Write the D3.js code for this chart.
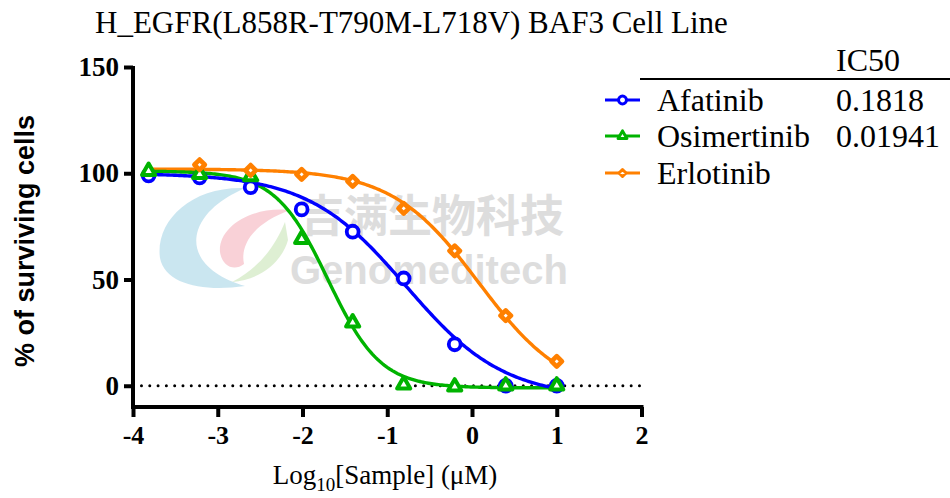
<!DOCTYPE html>
<html>
<head>
<meta charset="utf-8">
<script src="https://cdn.jsdelivr.net/npm/d3@7"></script>
<style>
  body { margin: 0; background: #fff; }
  svg { display: block; }
</style>
</head>
<body>
<svg id="chart" width="950" height="498"></svg>
<script>
// log10 concentrations (uM), 4-fold dilution
const logDose = [-3.816, -3.214, -2.612, -2.010, -1.408, -0.806, -0.204, 0.398, 1.000]
const afatinib = [99, 98, 93.4, 83, 72.5, 50.5, 19.5, 0, 0]
const osimertinib = [101, 99.5, 98.5, 69, 29.7, 0.5, -0.5, 0, 0]
const erlotinib = [null, 104, 101.4, 99.5, 96.2, 83.5, 63.5, 33, 11.5]
const seriesNames = ['Afatinib', 'Osimertinib', 'Erlotinib']
const ic50Text = ['0.1818', '0.01941', '']
// 4PL fit parameters: top, bottom, logIC50, hill
const fitTop = [100, 101, 102]
const fitBottom = [-6, -1, -5]
const fitLogIC50 = [-0.78, -1.70, 0.08]
const fitHill = [0.75, 1.4, 0.85]
const xTicks = [-4, -3, -2, -1, 0, 1, 2]
const yTicks = [0, 50, 100, 150]

const colors = ['#0000ff', '#00b300', '#ff8000']
const values = [afatinib, osimertinib, erlotinib]

const svg = d3.select('#chart')
const x = d3.scaleLinear().domain([-4, 2]).range([133, 641.5])
const y = d3.scaleLinear().domain([-10, 150]).range([407, 67])

// watermark
const wm = svg.append('g').attr('opacity', 0.45)
wm.append('path')
  .attr('d', 'M245,188 C190,186 155,222 160,258 C165,285 205,292 245,286 C210,276 190,255 198,230 C206,208 228,196 245,188 Z')
  .attr('fill', '#8cc8e0')
wm.append('path')
  .attr('d', 'M290,210 C250,206 218,228 220,252 C222,266 234,272 244,264 C240,246 252,224 290,210 Z')
  .attr('fill', '#f29aa8')
wm.append('path')
  .attr('d', 'M285,222 C276,244 262,266 232,282 C260,280 282,262 288,240 Z')
  .attr('fill', '#b8dca0')
wm.append('text')
  .attr('x', 300).attr('y', 232)
  .style('font', "bold 44px 'Noto Sans CJK SC'")
  .attr('fill', '#b5b5b5')
  .text('吉满生物科技')
wm.append('text')
  .attr('x', 290).attr('y', 284)
  .style('font', "bold 40px 'Liberation Sans'")
  .attr('fill', '#b5b5b5')
  .text('Genomeditech')

// title
svg.append('text')
  .attr('x', 95).attr('y', 33)
  .style('font', "31px 'Liberation Serif'")
  .attr('fill', '#000')
  .text('H_EGFR(L858R-T790M-L718V) BAF3 Cell Line')

// axes
const yAxis = svg.append('g')
  .attr('transform', 'translate(' + x(-4) + ',0)')
  .call(d3.axisLeft(y).tickValues(yTicks).tickSize(9).tickPadding(5))
yAxis.select('.domain').remove()
yAxis.selectAll('.tick line').attr('stroke', '#000').attr('stroke-width', 4)
yAxis.selectAll('.tick text')
  .style('font', "bold 27px 'Liberation Serif'")
  .attr('fill', '#000')

const xAxis = svg.append('g')
  .attr('transform', 'translate(0,' + y(-10) + ')')
  .call(d3.axisBottom(x).tickValues(xTicks).tickSize(10).tickPadding(9))
xAxis.select('.domain').remove()
xAxis.selectAll('.tick line').attr('stroke', '#000').attr('stroke-width', 4)
xAxis.selectAll('.tick text')
  .style('font', "bold 26px 'Liberation Serif'")
  .attr('fill', '#000')
  .text(d => d < 0 ? '-' + Math.abs(d) : d)

svg.append('line')
  .attr('x1', x(-4)).attr('x2', x(-4))
  .attr('y1', y(150) - 1).attr('y2', y(-10) + 2)
  .attr('stroke', '#000').attr('stroke-width', 4)
svg.append('line')
  .attr('x1', x(-4) - 2).attr('x2', x(2) + 2)
  .attr('y1', y(-10)).attr('y2', y(-10))
  .attr('stroke', '#000').attr('stroke-width', 4)

// dotted zero line
svg.append('line')
  .attr('x1', x(-3.9)).attr('x2', x(2.05))
  .attr('y1', y(0)).attr('y2', y(0))
  .attr('stroke', '#000').attr('stroke-width', 3)
  .attr('stroke-linecap', 'round')
  .attr('stroke-dasharray', '0 8.3')

// axis titles
svg.append('text')
  .attr('transform', 'translate(34,241)rotate(-90)')
  .attr('text-anchor', 'middle')
  .style('font', "bold 27px 'Liberation Sans'")
  .attr('fill', '#000')
  .text('% of surviving cells')

const xt = svg.append('text')
  .attr('x', 385).attr('y', 484)
  .attr('text-anchor', 'middle')
  .style('font', "27px 'Liberation Serif'")
  .attr('fill', '#000')
xt.append('tspan').text('Log')
xt.append('tspan').attr('dy', 7).style('font-size', '19px').text('10')
xt.append('tspan').attr('dy', -7).text('[Sample] (\u03bcM)')

// fit curves
function fit(i, v) {
  return fitBottom[i] + (fitTop[i] - fitBottom[i]) / (1 + Math.pow(10, (v - fitLogIC50[i]) * fitHill[i]))
}
const line = d3.line().x(d => x(d[0])).y(d => y(d[1]))
const drawOrder = [2, 1, 0]
drawOrder.forEach(i => {
  const xs = d3.range(logDose[0], logDose[logDose.length - 1] + 0.001, 0.02)
  svg.append('path')
    .datum(xs.map(v => [v, fit(i, v)]))
    .attr('d', line)
    .attr('fill', 'none')
    .attr('stroke', colors[i])
    .attr('stroke-width', 3.4)
})

// markers
const shapes = [d3.symbolCircle, d3.symbolTriangle, d3.symbolDiamond2]
const sizes = [110, 75, 70]
const strokeW = [3.8, 4, 4.6]
;[0, 1, 2].forEach(i => {
  svg.append('g').selectAll('path')
    .data(logDose.map((v, k) => [v, values[i][k]]).filter(d => d[1] != null))
    .join('path')
    .attr('transform', d => 'translate(' + x(d[0]) + ',' + y(d[1]) + ')')
    .attr('d', d3.symbol().type(shapes[i]).size(sizes[i]))
    .attr('fill', '#fff')
    .attr('stroke', colors[i])
    .attr('stroke-width', strokeW[i])
    .attr('stroke-linejoin', 'round')
})

// legend
svg.append('text')
  .attr('x', 836).attr('y', 71)
  .style('font', "32px 'Liberation Serif'")
  .attr('fill', '#000')
  .text('IC50')
svg.append('line')
  .attr('x1', 640).attr('x2', 950)
  .attr('y1', 79).attr('y2', 79)
  .attr('stroke', '#000').attr('stroke-width', 2)

const legY = [100, 136, 173]
seriesNames.forEach((name, i) => {
  const g = svg.append('g')
  g.append('line')
    .attr('x1', 605).attr('x2', 640)
    .attr('y1', legY[i]).attr('y2', legY[i])
    .attr('stroke', colors[i]).attr('stroke-width', 3)
  g.append('path')
    .attr('transform', 'translate(622.5,' + legY[i] + ')')
    .attr('d', d3.symbol().type(shapes[i]).size(sizes[i] * 0.45))
    .attr('fill', '#fff')
    .attr('stroke', colors[i])
    .attr('stroke-width', 3)
    .attr('stroke-linejoin', 'round')
  g.append('text')
    .attr('x', 657).attr('y', legY[i] + 11)
    .style('font', "32px 'Liberation Serif'")
    .attr('fill', '#000')
    .text(name)
  g.append('text')
    .attr('x', 836).attr('y', legY[i] + 11)
    .style('font', "32px 'Liberation Serif'")
    .attr('fill', '#000')
    .text(ic50Text[i])
})
</script>
</body>
</html>
